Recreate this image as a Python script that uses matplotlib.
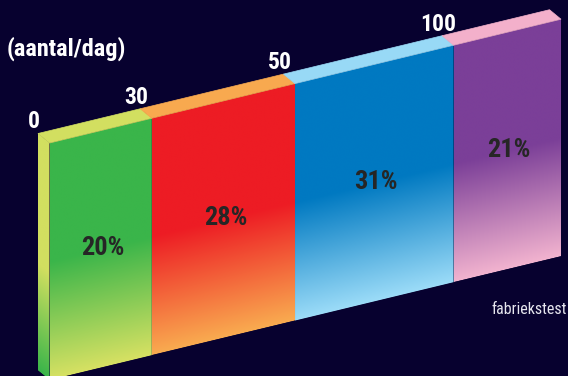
import numpy as np
import matplotlib
matplotlib.use("Agg")
import matplotlib.pyplot as plt
from matplotlib.transforms import Affine2D, offset_copy
from matplotlib.patches import Polygon
from matplotlib.colors import to_rgb

# ---- data ----
shares = [20, 28, 31, 21]
share_labels = ["20%", "28%", "31%", "21%"]
boundary_labels = ["0", "30", "50", "100"]
unit_label = "(aantal/dag)"
source_label = "fabriekstest"

front_top_colors = ["#3ab54a", "#ed1c24", "#0079c1", "#7b3f98"]
front_bottom_colors = ["#d7e163", "#f9ab50", "#9cdcf8", "#f2b3cf"]
top_face_colors = ["#d2df60", "#f8a94f", "#98d9f6", "#f3b0cb"]
side_colors = ["#d2df60", "#3ab54a"]

# ---- styling / layout ----
BG = "#07012f"
W, H_FIG = 568, 376
X0, TOTAL_W, Y_TOP0, SLOPE, FACE_H = 49.5, 511.5, 143.0, -0.242, 237.0
DX, DY = -11.5, -9.5
GRAD_START = 0.5
NARROW = ["Roboto Condensed", "DejaVu Sans"]

fig = plt.figure(figsize=(W / 100, H_FIG / 100), dpi=100, facecolor=BG)
ax = fig.add_axes([0, 0, 1, 1])
ax.set_facecolor(BG)
ax.axis("off")

a = TOTAL_W / 100.0
front_tf = Affine2D(np.array([[a, 0, X0], [SLOPE * a, FACE_H, Y_TOP0], [0, 0, 1]])) + ax.transData
top_tf = Affine2D(np.array([[a, DX, X0], [SLOPE * a, DY, Y_TOP0], [0, 0, 1]])) + ax.transData
side_tf = Affine2D(np.array([[-DX, 0, X0 + DX], [-DY, FACE_H, Y_TOP0 + DY], [0, 0, 1]])) + ax.transData
label_tf = offset_copy(front_tf, fig=fig, x=2, y=1, units="dots")


def gradient(c_top, c_bot, start, n=256):
    t = np.linspace(0, 1, n)
    f = np.clip((t - start) / (1 - start), 0, 1)
    c0, c1 = np.array(to_rgb(c_top)), np.array(to_rgb(c_bot))
    col = c0[None, :] * (1 - f[:, None]) + c1[None, :] * f[:, None]
    rgba = np.concatenate([col, np.ones((n, 1))], axis=1)
    return np.repeat(rgba[:, None, :], 4, axis=1)


def shaded(img, x0, x1, tf):
    im = ax.imshow(img, extent=(x0, x1, 0, 1), origin="lower", transform=tf,
                   aspect="auto", interpolation="bilinear", zorder=2)
    clip = Polygon([(x0, 0), (x1, 0), (x1, 1), (x0, 1)], closed=True,
                   transform=tf, facecolor="none", edgecolor="none")
    ax.add_patch(clip)
    im.set_clip_path(clip)
    return im


bounds = np.concatenate([[0], np.cumsum(shares)])

# left side face
shaded(gradient(side_colors[0], side_colors[1], 0.55), 0, 1, side_tf)

for i in range(len(shares)):
    p0, p1 = bounds[i], bounds[i + 1]
    shaded(gradient(front_top_colors[i], front_bottom_colors[i], GRAD_START),
           p0, p1, front_tf)
    ax.add_patch(Polygon([(p0, 0), (p1, 0), (p1, 1), (p0, 1)], closed=True,
                         facecolor=top_face_colors[i], edgecolor=top_face_colors[i],
                         linewidth=0.5, transform=top_tf, zorder=3))
    ax.text((p0 + p1) / 2, 0.5, share_labels[i], transform=label_tf,
            ha="center", va="center", fontsize=19, fontweight="bold",
            color="#262626", family=NARROW, zorder=5)

for i, lab in enumerate(boundary_labels):
    ax.annotate(lab, xy=(bounds[i], 1), xycoords=top_tf, xytext=(-4, 5),
                textcoords="offset pixels", ha="center", va="baseline",
                fontsize=17, fontweight="bold", color="white", family=NARROW, zorder=5)

ax.text(7, 49, unit_label, ha="left", va="center", fontsize=17.5, fontweight="bold",
        color="white", family=NARROW)
ax.text(567, 309, source_label, ha="right", va="center", fontsize=11.5,
        color="#e6e6ee", family=NARROW)

ax.set_xlim(0, W)
ax.set_ylim(H_FIG, 0)
fig.savefig("out.png", dpi=100, facecolor=BG)
